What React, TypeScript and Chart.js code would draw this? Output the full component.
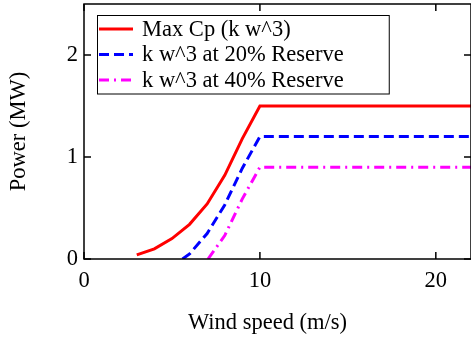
import React, { useEffect, useRef } from "react";
import { Chart, registerables } from "chart.js";

Chart.register(...registerables);

// ---- data ----
const windMax = [3, 4, 5, 6, 7, 8, 9, 10, 22];
const powerMax = [0.04, 0.1, 0.2, 0.34, 0.54, 0.82, 1.18, 1.5, 1.5];
const wind20 = [5.6, 6, 7, 8, 9, 10, 22];
const power20 = [0, 0.05, 0.25, 0.53, 0.89, 1.2, 1.2];
const wind40 = [7.05, 8, 9, 10, 22];
const power40 = [0, 0.23, 0.59, 0.9, 0.9];
const xTicks = [0, 10, 20];
const yTicks = [0, 1, 2];
const seriesLabels = ["Max Cp (k w^3)", "k w^3 at 20% Reserve", "k w^3 at 40% Reserve"];
const xTitle = "Wind speed (m/s)";
const yTitle = "Power (MW)";

const FONT = "'Liberation Serif', 'Times New Roman', serif";
const FONT_SIZE = 22.5;

const toPoints = (xs: number[], ys: number[]) => xs.map((x, i) => ({ x, y: ys[i] }));

const framePlugin = {
  id: "frame",
  afterDraw(chart: any) {
    const { ctx, chartArea: a, scales } = chart;
    const xs = scales.x;
    const ys = scales.y;
    const tl = 7;
    ctx.save();
    ctx.strokeStyle = "#000";
    ctx.lineWidth = 1.5;
    ctx.strokeRect(a.left, a.top, a.right - a.left, a.bottom - a.top);
    ctx.beginPath();
    xTicks.forEach((v) => {
      const px = xs.getPixelForValue(v);
      ctx.moveTo(px, a.bottom);
      ctx.lineTo(px, a.bottom - tl);
      ctx.moveTo(px, a.top);
      ctx.lineTo(px, a.top + tl);
    });
    yTicks.forEach((v) => {
      const py = ys.getPixelForValue(v);
      ctx.moveTo(a.left, py);
      ctx.lineTo(a.left + tl, py);
      ctx.moveTo(a.right, py);
      ctx.lineTo(a.right - tl, py);
    });
    ctx.stroke();
    // x-axis title, centred slightly left of the plot centre as in the reference
    ctx.fillStyle = "#000";
    ctx.font = `${FONT_SIZE}px ${FONT}`;
    ctx.textAlign = "center";
    ctx.textBaseline = "middle";
    ctx.fillText(xTitle, (a.left + a.right) / 2 - 10, chart.height - 16);
    ctx.restore();
  },
};

const legendPlugin = {
  id: "boxLegend",
  afterDatasetsDraw(chart: any) {
    const { ctx, chartArea: a } = chart;
    const left = a.left + 13;
    const top = a.top + 11;
    const rowH = 25.5;
    const sampleX0 = left + 2;
    const sampleX1 = left + 36;
    const textX = left + 45;
    ctx.save();
    ctx.font = `${FONT_SIZE}px ${FONT}`;
    const ds = chart.data.datasets;
    let maxW = 0;
    ds.forEach((d: any) => {
      maxW = Math.max(maxW, ctx.measureText(d.label).width);
    });
    const right = textX + maxW + 45;
    const bottom = top + rowH * ds.length + 2;
    ctx.fillStyle = "#fff";
    ctx.fillRect(left, top, right - left, bottom - top);
    ctx.strokeStyle = "#000";
    ctx.lineWidth = 1;
    ctx.strokeRect(left + 0.5, top + 0.5, right - left, bottom - top);
    ds.forEach((d: any, i: number) => {
      const cy = top + 14 + i * rowH;
      ctx.save();
      ctx.strokeStyle = d.borderColor;
      ctx.lineWidth = d.borderWidth;
      ctx.setLineDash(d.borderDash || []);
      ctx.beginPath();
      ctx.moveTo(sampleX0, cy);
      ctx.lineTo(sampleX1, cy);
      ctx.stroke();
      ctx.restore();
      ctx.fillStyle = "#000";
      ctx.textBaseline = "middle";
      ctx.textAlign = "left";
      ctx.fillText(d.label, textX, cy + 1);
    });
    ctx.restore();
  },
};

export default function App() {
  const ref = useRef<HTMLCanvasElement | null>(null);

  useEffect(() => {
    if (!ref.current) return;
    const tickFont = { family: FONT, size: FONT_SIZE };
    const chart = new Chart(ref.current, {
      type: "line",
      data: {
        datasets: [
          {
            label: seriesLabels[0],
            data: toPoints(windMax, powerMax),
            borderColor: "#ff0000",
            borderWidth: 3,
            pointRadius: 0,
            fill: false,
          },
          {
            label: seriesLabels[1],
            data: toPoints(wind20, power20),
            borderColor: "#0000ff",
            borderWidth: 3,
            borderDash: [10, 5],
            pointRadius: 0,
            fill: false,
          },
          {
            label: seriesLabels[2],
            data: toPoints(wind40, power40),
            borderColor: "#ff00ff",
            borderWidth: 3,
            borderDash: [10, 5, 2, 5],
            pointRadius: 0,
            fill: false,
          },
        ],
      },
      options: {
        responsive: false,
        animation: false,
        layout: { padding: { top: 4, right: 0, left: 0, bottom: 0 } },
        plugins: { legend: { display: false }, tooltip: { enabled: false } },
        scales: {
          x: {
            type: "linear",
            min: 0,
            max: 22,
            afterBuildTicks: (s: any) => {
              s.ticks = xTicks.map((v) => ({ value: v }));
            },
            afterFit: (s: any) => {
              s.height = 80;
              s.paddingLeft = 0;
              s.paddingRight = 0;
            },
            grid: { display: false, drawTicks: false },
            border: { display: false },
            ticks: { font: tickFont, color: "#000", padding: 9, maxRotation: 0 },
            title: { display: false },
          },
          y: {
            type: "linear",
            min: 0,
            max: 2.5,
            afterBuildTicks: (s: any) => {
              s.ticks = yTicks.map((v) => ({ value: v }));
            },
            afterFit: (s: any) => {
              s.width = 84;
              s.paddingTop = 0;
              s.paddingBottom = 0;
            },
            grid: { display: false, drawTicks: false },
            border: { display: false },
            ticks: { font: tickFont, color: "#000", padding: 6 },
            title: {
              display: true,
              text: yTitle,
              font: tickFont,
              color: "#000",
              padding: { top: 6, bottom: 0 },
            },
          },
        },
      },
      plugins: [framePlugin, legendPlugin],
    } as any);
    return () => chart.destroy();
  }, []);

  return (
    <div style={{ position: "fixed", left: 0, top: 0, width: 471, height: 339, background: "#fff" }}>
      <canvas ref={ref} width={471} height={339} style={{ display: "block" }} />
    </div>
  );
}
